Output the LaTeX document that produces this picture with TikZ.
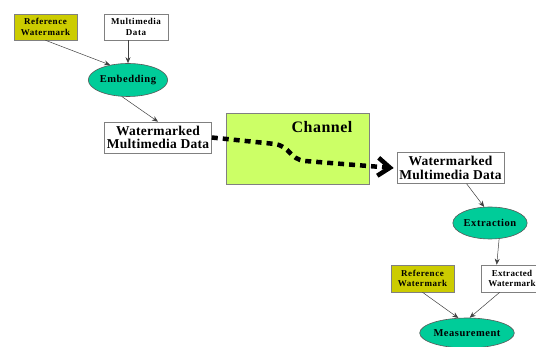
\documentclass[tikz,border=0pt]{standalone}
\usepackage{fontspec}
\setmainfont{Liberation Serif}
\usetikzlibrary{calc,arrows.meta,shapes.geometric}
\definecolor{olivebox}{HTML}{CCCC00}
\definecolor{tealnode}{HTML}{00CC99}
\definecolor{limebox}{HTML}{CCFF66}
\begin{document}
\begin{tikzpicture}[x=1pt, y=-1pt, font=\bfseries,
  smallbox/.style={draw=gray, line width=0.6pt, minimum width=#1, minimum height=26pt, inner sep=1pt, align=center, font=\bfseries\fontsize{9}{10.5}\selectfont\addfontfeature{LetterSpace=6}},
  bigbox/.style={draw=gray, line width=0.6pt, fill=white, minimum width=107pt, minimum height=31pt, inner sep=1pt, align=center, font=\bfseries\fontsize{13.5}{13.5}\selectfont\addfontfeature{LetterSpace=2}},
  proc/.style={ellipse, draw=gray!70!black, line width=0.6pt, fill=tealnode, inner sep=0pt, font=\bfseries\fontsize{10.5}{11}\selectfont\addfontfeature{LetterSpace=5}},
  arr/.style={-{Stealth[length=6pt,width=5pt]}, draw=black!75, line width=0.5pt}]
\useasboundingbox (0,0) rectangle (536,347); \clip (0,0) rectangle (536,347);
% embedding side
\node[smallbox=63pt, fill=olivebox] (refwmA) at (45.5,27) {Reference\\Watermark};
\node[smallbox=64pt, fill=white] (mmdata) at (136,27) {Multimedia\\Data};
\node[proc, minimum width=70pt, minimum height=33pt] (embed) at (128,80) {Embedding};
\node[bigbox] (wmdA) at (158,137.5) {Watermarked\\Multimedia Data};
\draw[arr] (refwmA.south) -- (embed.140); \draw[arr] (mmdata.south -| embed.north) -- (embed.north); \draw[arr] (embed.250) -- (wmdA.north);
% channel
\node[draw=gray, line width=0.6pt, fill=limebox, minimum width=143pt, minimum height=71pt] (channel) at (297.5,148.5) {};
\node[font=\bfseries\fontsize{16}{18}\selectfont\addfontfeature{LetterSpace=3}] (chlabel) at (322,127) {Channel};
\node[bigbox] (wmdB) at (450.5,168) {Watermarked\\Multimedia Data};
\draw[line width=4.5pt, dash pattern=on 6pt off 5pt, -{Straight Barb[length=12pt,width=18pt]}] (wmdA.east) -- (275,144) .. controls (291,147) and (289,159) .. (305,161) -- ($(wmdB.west)+(-3,0)$);
% extraction side
\node[proc, minimum width=62pt, minimum height=32pt] (extract) at (490,223) {Extraction};
\node[smallbox=63pt, minimum height=27pt, fill=olivebox] (refwmB) at (422.5,278.5) {Reference\\Watermark};
\node[smallbox=62pt, minimum height=27pt, fill=white, font=\bfseries\fontsize{9}{10.5}\selectfont\addfontfeature{LetterSpace=3}] (extwm) at (512,278.5) {Extracted\\Watermark};
\node[proc, minimum width=79pt, minimum height=30pt] (measure) at (467,333) {Measurement};
\draw[arr] ($(wmdB.south)!0.3!(wmdB.south east)$) -- (extract.110); \draw[arr] (extract.-60) -- ($(extwm.north west)+(16,0)$);
\draw[arr] (refwmB.south) -- (measure.120); \draw[arr] ($(extwm.south west)+(19,0)$) -- (measure.80);
\end{tikzpicture}
\end{document}
